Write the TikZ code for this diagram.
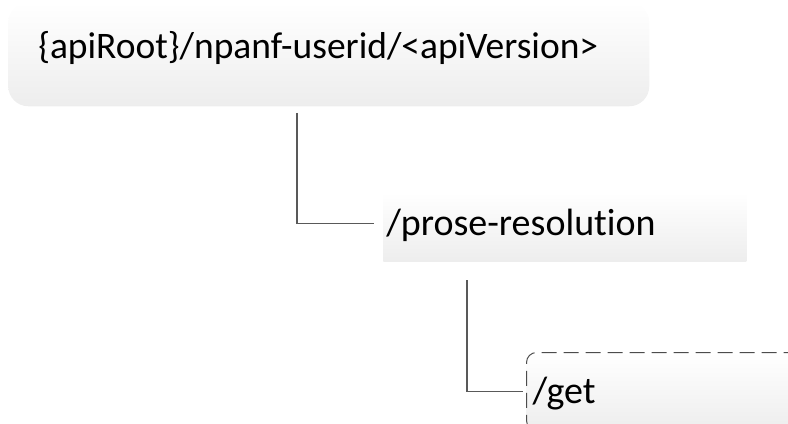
\documentclass[tikz,border=0pt]{standalone}
\usepackage{fontspec}
\setmainfont{Carlito}[Ligatures=NoCommon]
\usetikzlibrary{positioning}

\begin{document}
\begin{tikzpicture}[x=0.75pt, y=-0.75pt,
	every node/.style={inner ysep=0pt, align=left, font=\fontsize{28.5}{34}\selectfont},
	rootbox/.style={anchor=north west, rounded corners=15pt, top color=white, bottom color=black!7},
	pathbox/.style={anchor=north west, top color=white, bottom color=black!7},
	leafbox/.style={anchor=north west, rounded corners=7.5pt, top color=white, bottom color=black!7,
		draw=black!70, dash pattern=on 11.25pt off 5.25pt, line width=0.75pt},
	conn/.style={draw=black!65, line width=0.9pt}]
	\useasboundingbox (0,0) rectangle (788,424);

	% Root resource
	\node[rootbox, font=\fontsize{28.1}{34}\selectfont, inner xsep=22.5pt, text width=435.75pt, text height=42pt, text depth=36pt] (root) at (8,2)
		{\{apiRoot\}/npanf-userid/<apiVersion>};

	% Sub-resource
	\node[pathbox, inner xsep=2.25pt, text width=267.75pt, text height=32.25pt, text depth=19.5pt] (res) at (383,192)
		{/prose-resolution};

	% Operation (dashed)
	\node[leafbox, inner xsep=4.5pt, text width=202.5pt, text height=38.25pt, text depth=20.25pt] (get) at (526,352)
		{/get};

	% Tree connectors
	\coordinate (t1) at (297,113);
	\coordinate (t2) at (467,280);
	\draw[conn, shorten >=6.75pt] (t1) |- ([yshift=2.4pt]res.west);
	\draw[conn, shorten >=2.25pt] (t2) |- (get.west);
\end{tikzpicture}
\end{document}
